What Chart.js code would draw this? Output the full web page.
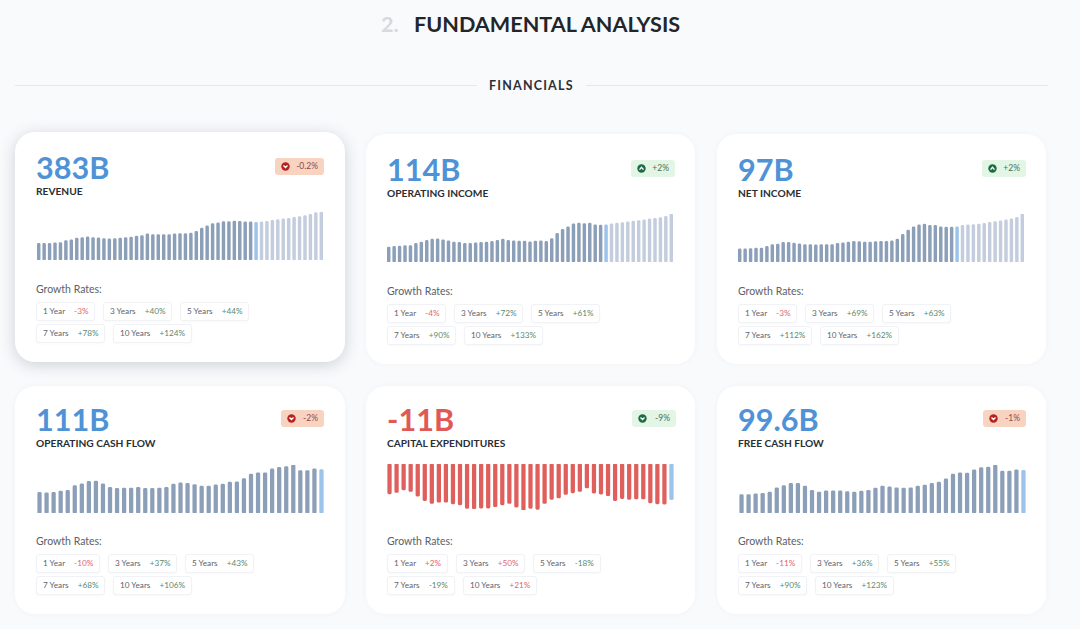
<!DOCTYPE html>
<html>
<head>
<meta charset="utf-8">
<script src="https://cdn.jsdelivr.net/npm/chart.js@4"></script>
<style>
html, body { margin: 0; padding: 0; }
body { width: 1080px; height: 629px; overflow: hidden; background: #f9fafc; font-family: Lato, sans-serif; position: relative; color: #23272c; }
.abs { position: absolute; white-space: nowrap; }
.card { position: absolute; background: #fff; border-radius: 20px; box-shadow: 0 0 6px rgba(60,70,90,.04); }
.card.hover { box-shadow: 0 3px 16px rgba(50,60,80,.22); }
.value { font-size: 30.6px; font-weight: 700; line-height: 26px; color: #4f93d6; }
.value.neg { color: #df5a56; }
.name { font-size: 10.2px; font-weight: 700; line-height: 12px; color: #2b2e33; }
.badge { height: 17px; border-radius: 3px; font-size: 8.5px; line-height: 17px; }
.badge svg { position: absolute; left: 6px; top: 4px; }
.badge span { position: absolute; right: 6px; top: 0; }
.badge.bad { background: #f9d3c2; color: #8e4a44; }
.badge.good { background: #e3f6e6; color: #47705a; }
.growth { font-size: 10.5px; line-height: 14px; color: #5c6168; }
.chip { position: absolute; height: 17px; line-height: 17px; font-size: 8.2px; color: #5f646b; background: #fff; border: 1px solid #f1f2f5; border-radius: 3px; padding: 0 6px; white-space: nowrap; box-shadow: 0 1px 2px rgba(60,70,90,.03); }
.chip b { font-weight: 400; margin-left: 9px; }
.chip b.up { color: #5b8a72; }
.chip b.down { color: #e0686a; }
canvas { position: absolute; }
</style>
</head>
<body>
<div class="abs" style="left:381px;top:9px;font-size:21.6px;font-weight:700;line-height:30px;color:#d6d9dd">2.</div>
<div class="abs" style="left:414px;top:9px;font-size:21.6px;font-weight:700;line-height:30px;color:#22262b">FUNDAMENTAL ANALYSIS</div>
<div class="abs" style="left:15px;top:85px;width:462px;height:1px;background:#e5e7eb"></div>
<div class="abs" style="left:586px;top:85px;width:462px;height:1px;background:#e5e7eb"></div>
<div class="abs" style="left:489px;top:78px;font-size:12.5px;font-weight:700;line-height:16px;letter-spacing:1.2px;color:#2c3036">FINANCIALS</div>
<script>
// values in billions
var revenue = [168,168,168,175,178,198,205,222,228,235,228,225,218,215,218,222,228,232,242,249,265,259,259,259,259,265,269,269,272,292,323,346,370,376,390,390,396,393,386,386,383,386,393,403,410,417,423,433,440,450,464,480,487];
var operatingIncome = [46,48,49,50,50,57,61,66,70,71,68,65,61,60,57,57,59,60,61,63,66,70,66,65,64,64,62,64,65,63,72,88,100,108,117,119,118,119,114,113,114,117,119,121,123,125,127,129,132,134,136,140,147];
var netIncome = [36,36,37,38,38,43,48,49,54,54,52,50,48,48,47,48,48,48,51,53,55,57,56,55,55,56,57,57,58,63,76,88,97,102,104,101,101,97,96,96,97,101,102,103,104,106,109,111,113,116,119,123,132];
var operatingCashFlow = [53,52,53,56,58,70,75,81,82,75,66,63,64,64,66,63,63,64,66,74,77,76,73,69,69,72,74,79,80,88,100,103,103,113,117,119,123,109,109,113,111];
var capitalExpenditures = [-9.2,-8.8,-8.0,-8.5,-9.9,-11.3,-12.2,-11.8,-11.8,-12.3,-12.6,-13.7,-13.8,-13.6,-13.6,-13.2,-12.6,-12.2,-13.3,-14.2,-13.7,-14.0,-12.2,-10.9,-10.5,-9.4,-8.9,-8.5,-7.4,-9.0,-9.3,-9.8,-11.3,-10.7,-10.9,-10.8,-10.8,-12.0,-12.3,-12.4,-11.0];
var freeCashFlow = [43,43,45,46,49,59,64,69,69,63,53,49,52,52,52,50,49,51,53,58,63,61,59,58,59,63,65,69,72,80,91,94,93,101,106,107,112,98,98,101,99.6];

var series = [revenue, operatingIncome, netIncome, operatingCashFlow, capitalExpenditures, freeCashFlow];
var names = ['REVENUE', 'OPERATING INCOME', 'NET INCOME', 'OPERATING CASH FLOW', 'CAPITAL EXPENDITURES', 'FREE CASH FLOW'];
var headline = ['383B', '114B', '97B', '111B', '-11B', '99.6B'];
var changes = ['-0.2%', '+2%', '+2%', '-2%', '-9%', '-1%'];
var changeGood = [false, true, true, false, true, false];
var periods = ['1 Year', '3 Years', '5 Years', '7 Years', '10 Years'];
var growth = [
    ['-3%', '+40%', '+44%', '+78%', '+124%'],
    ['-4%', '+72%', '+61%', '+90%', '+133%'],
    ['-3%', '+69%', '+63%', '+112%', '+162%'],
    ['-10%', '+37%', '+43%', '+68%', '+106%'],
    ['+2%', '+50%', '-18%', '-19%', '+21%'],
    ['-11%', '+36%', '+55%', '+90%', '+123%']
];
var lastActual = 40; // highlighted bar, everything after is estimate

var boxes = [
    {x: 15, y: 132, w: 330, h: 230, tx: 36, ty: 152, bx: 275, bw: 49, cx: 36, cy: 212, ch: 48.3, gx: 36},
    {x: 366, y: 134, w: 329, h: 230, tx: 387, ty: 154, bx: 631, bw: 44, cx: 386.3, cy: 214, ch: 48, gx: 387},
    {x: 717, y: 134, w: 329, h: 230, tx: 738, ty: 154, bx: 982, bw: 44, cx: 737, cy: 214, ch: 48, gx: 738},
    {x: 15, y: 386, w: 330, h: 228, tx: 36, ty: 404, bx: 281, bw: 43, cx: 35.8, cy: 465, ch: 48, gx: 36},
    {x: 366, y: 386, w: 329, h: 228, tx: 387, ty: 404, bx: 632, bw: 44, cx: 386, cy: 464, ch: 46.3, gx: 387},
    {x: 717, y: 386, w: 329, h: 228, tx: 738, ty: 404, bx: 983, bw: 43, cx: 737.5, cy: 465, ch: 48, gx: 738}
];

function add(cls, css, html) {
    var d = document.createElement('div');
    d.className = cls;
    d.style.cssText = css;
    d.innerHTML = html || '';
    document.body.appendChild(d);
    return d;
}

function icon(good, up) {
    var col = good ? '#1d6b45' : '#b3231f';
    var pts = up ? '2.5,5.6 4.5,3.4 6.5,5.6' : '2.5,3.6 4.5,5.6 6.5,3.6';
    return '<svg width="9" height="9"><circle cx="4.5" cy="4.5" r="4.2" fill="' + col + '"/>' +
        '<polyline points="' + pts + '" fill="none" stroke="#fff" stroke-width="1.4"/></svg>';
}

names.forEach(function(name, i) {
    var b = boxes[i];
    add('card' + (i == 0 ? ' hover' : ''), 'left:' + b.x + 'px;top:' + b.y + 'px;width:' + b.w + 'px;height:' + b.h + 'px');
    add('abs value' + (headline[i][0] == '-' ? ' neg' : ''), 'left:' + b.tx + 'px;top:' + (b.ty + 3) + 'px', headline[i]);
    add('abs name', 'left:' + b.tx + 'px;top:' + (b.ty + 33) + 'px', name);

    var up = changes[i][0] == '+';
    add('abs badge ' + (changeGood[i] ? 'good' : 'bad'),
        'left:' + b.bx + 'px;top:' + (b.ty + 6) + 'px;width:' + b.bw + 'px',
        icon(changeGood[i], up) + '<span>' + changes[i] + '</span>');

    add('abs growth', 'left:' + b.tx + 'px;top:' + (b.ty + 130) + 'px', 'Growth Rates:');

    // chips: three on the first row, two on the second
    var left = b.gx;
    periods.forEach(function(p, k) {
        if (k == 3) left = b.gx;
        var top = b.ty + (k < 3 ? 150 : 172);
        var v = growth[i][k];
        var costUp = i == 4 ? v[0] == '+' : v[0] == '-';
        var c = add('chip', 'left:' + left + 'px;top:' + top + 'px',
            p + '<b class="' + (costUp ? 'down' : 'up') + '">' + v + '</b>');
        left += c.offsetWidth + 8;
    });

    var data = series[i];
    var negative = data[0] < 0;
    var cv = document.createElement('canvas');
    var width = data.length == 53 ? 288 : 289;
    cv.width = width;
    cv.height = Math.round(b.ch);
    cv.style.left = b.cx + 'px';
    cv.style.top = b.cy + 'px';
    document.body.appendChild(cv);

    new Chart(cv, {
        type: 'bar',
        data: {
            labels: data.map(function(_, n) { return n; }),
            datasets: [{
                data: data,
                barThickness: data.length == 53 ? 2.8 : 3.6,
                borderRadius: 1.4,
                borderSkipped: false,
                backgroundColor: data.map(function(_, n) {
                    if (n == lastActual) return '#9cc3ea';
                    if (n > lastActual) return '#c3cddd';
                    return negative ? '#df5f5c' : '#8c9fb8';
                })
            }]
        },
        options: {
            responsive: false,
            animation: false,
            plugins: {legend: {display: false}, tooltip: {enabled: false}},
            layout: {padding: 0},
            scales: {
                x: {display: false},
                y: {
                    display: false,
                    min: negative ? Math.min.apply(null, data) : 0,
                    max: negative ? 0 : Math.max.apply(null, data)
                }
            }
        }
    });
});
</script>
</body>
</html>
